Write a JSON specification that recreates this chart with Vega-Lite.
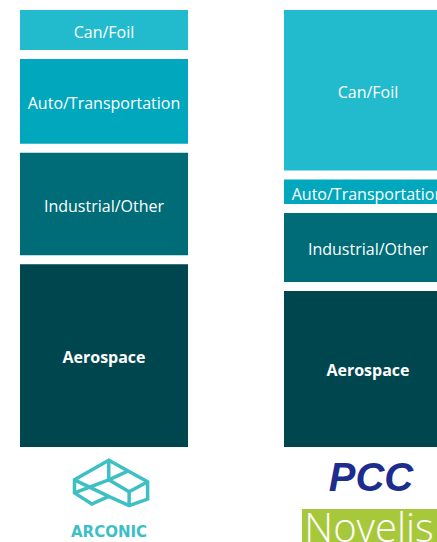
{
  "$schema": "https://vega.github.io/schema/vega-lite/v6.json",
  "width": 437,
  "height": 542,
  "padding": 0,
  "autosize": {"type": "none"},
  "config": {"view": {"stroke": null}, "font": "Open Sans"},
  "datasets": {
    "segments": [
      {"company": "Arconic", "segment": "Aerospace", "share": 43},
      {"company": "Arconic", "segment": "Industrial/Other", "share": 25},
      {"company": "Arconic", "segment": "Auto/Transportation", "share": 21},
      {"company": "Arconic", "segment": "Can/Foil", "share": 11},
      {"company": "PCC/Novelis", "segment": "Aerospace", "share": 37},
      {"company": "PCC/Novelis", "segment": "Industrial/Other", "share": 17.5},
      {"company": "PCC/Novelis", "segment": "Auto/Transportation", "share": 7.5},
      {"company": "PCC/Novelis", "segment": "Can/Foil", "share": 38}
    ],
    "logos": [
      {"company": "Arconic", "row": "logo", "label": "Arconic symbol"},
      {"company": "Arconic", "row": "name", "label": "ARCONIC"},
      {"company": "PCC/Novelis", "row": "logo", "label": "PCC"},
      {"company": "PCC/Novelis", "row": "name", "label": "Novelis"}
    ]
  },
  "layer": [
    {
      "data": {"name": "segments"},
      "transform": [
        {"stack": "share", "groupby": ["company"], "as": ["y0", "y1"]},
        {"calculate": "(datum.y0 + datum.y1) / 2", "as": "ymid"}
      ],
      "encoding": {
        "x": {"field": "company", "type": "nominal", "axis": null,
              "scale": {"domain": ["Arconic", "PCC/Novelis"], "range": [0, 472], "paddingInner": 0.3636, "paddingOuter": 0.0758}}
      },
      "layer": [
        {
          "mark": {"type": "bar", "yOffset": 4.5, "y2Offset": -4.5},
          "encoding": {
            "y": {"field": "y1", "type": "quantitative", "axis": null,
                  "scale": {"domain": [-20.29, 101.23], "nice": false, "zero": false}},
            "y2": {"field": "y0"},
            "color": {"field": "segment", "type": "nominal", "legend": null,
                      "scale": {"domain": ["Can/Foil", "Auto/Transportation", "Industrial/Other", "Aerospace"],
                                "range": ["#22BBCD", "#00A7BD", "#006C77", "#00464E"]}}
          }
        },
        {
          "transform": [{"filter": "datum.segment !== 'Aerospace'"}],
          "mark": {"type": "text", "color": "white", "fontSize": 16, "font": "Open Sans", "baseline": "middle", "dy": 3},
          "encoding": {
            "y": {"field": "ymid", "type": "quantitative", "axis": null},
            "text": {"field": "segment"}
          }
        },
        {
          "transform": [{"filter": "datum.segment === 'Aerospace'"}],
          "mark": {"type": "text", "color": "white", "fontSize": 16, "font": "Open Sans", "fontWeight": "bold", "baseline": "middle", "dy": 2},
          "encoding": {
            "y": {"field": "ymid", "type": "quantitative", "axis": null},
            "text": {"field": "segment"}
          }
        }
      ]
    },
    {
      "data": {"name": "logos"},
      "encoding": {
        "x": {"field": "company", "type": "nominal", "axis": null},
        "y": {"field": "row", "type": "nominal", "axis": null,
              "scale": {"domain": ["logo", "name"], "range": [451.5, 542], "paddingInner": 0.426, "paddingOuter": 0}}
      },
      "layer": [
        {
          "transform": [{"filter": "datum.label === 'Arconic symbol'"}],
          "mark": {"type": "point", "filled": false, "opacity": 1, "stroke": "#3DBFC4", "strokeWidth": 3.5, "strokeJoin": "miter",
                   "size": 5929, "xOffset": 5.5, "yOffset": 14.5,
                   "shape": "M-0.02,-0.58L-0.91,-0.07L-0.91,0.27L-0.46,0.56L-0.02,0.36L0.51,0.6L0.99,0.43L0.99,-0.02Z M-0.02,-0.07L0.49,-0.3 M-0.02,-0.07L0.51,0.24L0.99,-0.02 M0.51,0.24L0.51,0.6 M-0.02,-0.58L-0.02,-0.07 M-0.91,-0.07L-0.02,0.36 M-0.91,0.27L-0.02,-0.07"}
        },
        {
          "transform": [{"filter": "datum.label === 'ARCONIC'"}],
          "mark": {"type": "text", "font": "DejaVu Sans", "fontWeight": "bold", "fontSize": 15, "color": "#3DBFC4", "dx": 5, "dy": 6.5, "baseline": "middle"},
          "encoding": {"text": {"field": "label"}}
        },
        {
          "transform": [{"filter": "datum.label === 'PCC'"}],
          "mark": {"type": "text", "font": "Liberation Sans", "fontWeight": "bold", "fontStyle": "italic", "fontSize": 40, "color": "#1C2D8E", "dx": 3, "dy": 11, "baseline": "middle"},
          "encoding": {"text": {"field": "label"}}
        },
        {
          "transform": [{"filter": "datum.label === 'Novelis'"}],
          "mark": {"type": "bar", "color": "#A8C83C", "width": 148, "xOffset": 8}
        },
        {
          "transform": [{"filter": "datum.label === 'Novelis'"}],
          "mark": {"type": "text", "font": "Open Sans", "fontWeight": 300, "fontSize": 40, "color": "white", "dx": 1, "dy": 5, "baseline": "middle"},
          "encoding": {"text": {"field": "label"}}
        }
      ]
    }
  ],
  "resolve": {"scale": {"y": "independent"}}
}
